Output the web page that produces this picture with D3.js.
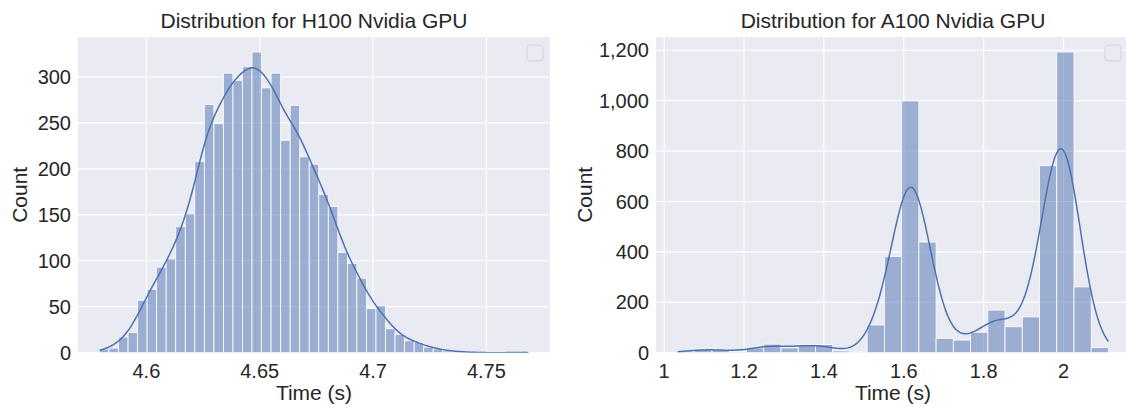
<!DOCTYPE html>
<html>
<head>
<meta charset="utf-8">
<script src="https://cdn.jsdelivr.net/npm/d3@7"></script>
<style>
  html, body { margin: 0; padding: 0; background: #ffffff; }
  svg { display: block; }
  text { font-family: "Liberation Sans", Arial, Helvetica, sans-serif; fill: #262626; }
</style>
</head>
<body>
<svg id="chart" width="1126" height="407"></svg>
<script>
// ---- data ----
const titles = ["Distribution for H100 Nvidia GPU", "Distribution for A100 Nvidia GPU"];
const xLabel = "Time (s)";
const yLabel = "Count";

// H100: 45 equal-width bins between the data min and max
const h100Range = [4.5793, 4.7686];
const h100Counts = [4, 5, 17, 22, 57, 69, 93, 102, 137, 151,
                    208, 270, 249, 304, 296, 311, 327, 288, 304, 231,
                    269, 213, 205, 172, 159, 109, 97, 81, 48, 51,
                    26, 20, 13, 11, 6, 4, 2, 1, 1, 0,
                    0, 0, 0, 0, 1];
const h100XTicks = [4.6, 4.65, 4.7, 4.75];
const h100YTicks = [0, 50, 100, 150, 200, 250, 300];

// A100: 25 equal-width bins between the data min and max
const a100Range = [1.0335, 2.1125];
const a100Counts = [6, 14, 12, 4, 19, 34, 19, 31, 32, 7,
                    2, 110, 382, 999, 439, 57, 50, 81, 169, 103,
                    142, 742, 1193, 261, 20];
const a100XTicks = [1, 1.2, 1.4, 1.6, 1.8, 2];
const a100YTicks = [0, 200, 400, 600, 800, 1000, 1200];

// ---- style ----
const colBar = "#4C72B0";
const bgCol = "#EAEAF2";

const svg = d3.select("#chart");

const panels = [
  { title: titles[0], range: h100Range, counts: h100Counts, xTicks: h100XTicks, yTicks: h100YTicks,
    box: { left: 78, right: 550, top: 37, bottom: 352.7 }, yFmt: d3.format(","), ylabX: 19 },
  { title: titles[1], range: a100Range, counts: a100Counts, xTicks: a100XTicks, yTicks: a100YTicks,
    box: { left: 656, right: 1130, top: 37, bottom: 352.7 }, yFmt: d3.format(","), ylabX: 584 }
];

function kdeFromBins(bins, n) {
  // gaussian KDE (Scott's rule) over the binned sample, scaled to counts
  const total = d3.sum(bins, b => b.count);
  const mean = d3.sum(bins, b => b.count * b.mid) / total;
  const variance = d3.sum(bins, b => b.count * (b.mid - mean) ** 2) / (total - 1);
  const sd = Math.sqrt(variance);
  const bw = sd * Math.pow(total, -1 / 5);
  const lo = bins[0].x0, hi = bins[bins.length - 1].x1;
  const width = bins[0].x1 - bins[0].x0;
  const pts = [];
  for (let i = 0; i <= n; i++) {
    const x = lo + (hi - lo) * i / n;
    let dens = 0;
    for (const b of bins) {
      if (!b.count) continue;
      const u = (x - b.mid) / bw;
      dens += b.count * Math.exp(-0.5 * u * u);
    }
    dens = dens / (total * bw * Math.sqrt(2 * Math.PI));
    pts.push([x, dens * total * width]);
  }
  return pts;
}

const fmtX = v => d3.format("~g")(v);

panels.forEach((p, idx) => {
  const b = p.box;
  const nb = p.counts.length;
  const w = (p.range[1] - p.range[0]) / nb;
  const bins = p.counts.map((c, i) => {
    const x0 = p.range[0] + i * w;
    return { x0, x1: x0 + w, mid: x0 + w / 2, count: c };
  });
  const span = p.range[1] - p.range[0];
  const x = d3.scaleLinear()
    .domain([p.range[0] - 0.05 * span, p.range[1] + 0.05 * span])
    .range([b.left, b.right]);
  const kde = kdeFromBins(bins, 200);
  const yMax = Math.max(d3.max(p.counts), d3.max(kde, d => d[1])) * 1.05;
  const y = d3.scaleLinear().domain([0, yMax]).range([b.bottom, b.top]);

  const g = svg.append("g");
  const clipId = "clip" + idx;
  svg.append("clipPath").attr("id", clipId)
    .append("rect").attr("x", b.left).attr("y", b.top)
    .attr("width", b.right - b.left).attr("height", b.bottom - b.top);

  g.append("rect")
    .attr("x", b.left).attr("y", b.top)
    .attr("width", b.right - b.left).attr("height", b.bottom - b.top)
    .attr("fill", bgCol);

  // grid
  const grid = g.append("g").attr("clip-path", `url(#${clipId})`);
  grid.selectAll("line.gx").data(p.xTicks).join("line")
    .attr("x1", d => x(d)).attr("x2", d => x(d))
    .attr("y1", b.top).attr("y2", b.bottom)
    .attr("stroke", "#ffffff").attr("stroke-width", 1.2);
  grid.selectAll("line.gy").data(p.yTicks).join("line")
    .attr("x1", b.left).attr("x2", b.right)
    .attr("y1", d => y(d)).attr("y2", d => y(d))
    .attr("stroke", "#ffffff").attr("stroke-width", 1.2);

  // bars
  const plot = g.append("g").attr("clip-path", `url(#${clipId})`);
  plot.selectAll("rect.bar").data(bins).join("rect")
    .attr("class", "bar")
    .attr("x", d => x(d.x0)).attr("width", d => x(d.x1) - x(d.x0))
    .attr("y", d => y(d.count)).attr("height", d => y(0) - y(d.count))
    .attr("fill", colBar).attr("fill-opacity", 0.5)
    .attr("stroke", "#ffffff").attr("stroke-width", 0.8);

  // kde line
  plot.append("path")
    .datum(kde)
    .attr("d", d3.line().x(d => x(d[0])).y(d => y(d[1])))
    .attr("fill", "none").attr("stroke", colBar).attr("stroke-width", 1.5);

  // empty legend box
  g.append("rect")
    .attr("x", b.left + 449).attr("y", 45)
    .attr("width", 16).attr("height", 16).attr("rx", 3)
    .attr("fill", "#EAEAF2").attr("stroke", "#d4d4dc").attr("stroke-width", 1);

  // x tick labels
  g.selectAll("text.xt").data(p.xTicks).join("text")
    .attr("x", d => x(d)).attr("y", 378)
    .attr("text-anchor", "middle").attr("font-size", 20)
    .text(fmtX);
  // y tick labels
  g.selectAll("text.yt").data(p.yTicks).join("text")
    .attr("x", b.left - 7).attr("y", d => y(d) + 7.2)
    .attr("text-anchor", "end").attr("font-size", 20)
    .text(p.yFmt);

  // axis labels
  g.append("text")
    .attr("x", (b.left + b.right) / 2).attr("y", 400)
    .attr("text-anchor", "middle").attr("font-size", 21)
    .text(xLabel);
  g.append("text")
    .attr("transform", `translate(${p.ylabX},${(b.top + b.bottom) / 2}) rotate(-90)`)
    .attr("text-anchor", "middle").attr("dominant-baseline", "central").attr("font-size", 21)
    .text(yLabel);
  // title
  g.append("text")
    .attr("x", (b.left + b.right) / 2).attr("y", 28)
    .attr("text-anchor", "middle").attr("font-size", 21)
    .text(p.title);
});
</script>
</body>
</html>
